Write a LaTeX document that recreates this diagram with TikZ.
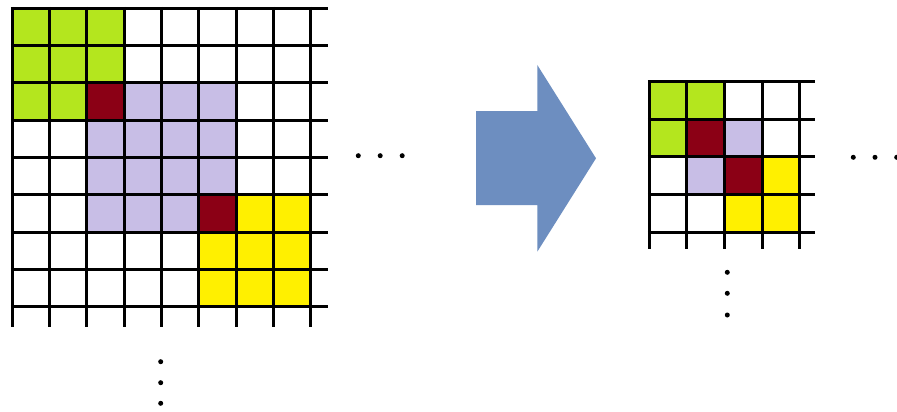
\documentclass[tikz,border=0pt]{standalone}
\definecolor{cgreen}{RGB}{180,230,30}
\definecolor{cpurple}{RGB}{200,190,230}
\definecolor{cdred}{RGB}{139,0,21}
\definecolor{cyellow}{RGB}{255,240,0}
\definecolor{carrow}{RGB}{109,142,192}
\tikzset{
  gridline/.style={line width=3pt, black},
  dotmark/.style={circle, fill=black, inner sep=0pt, minimum size=5pt},
}
\begin{document}
\begin{tikzpicture}[x=1pt,y=-1pt]
\useasboundingbox (0,0) rectangle (897,412);
\fill[white] (0,0) rectangle (897,412);

% ---------- left 8x8 block ----------
\def\lx{12.3}\def\ly{8.3}\def\lp{37.3}
\foreach \c/\r/\col in {0/0/cgreen,1/0/cgreen,2/0/cgreen,0/1/cgreen,1/1/cgreen,2/1/cgreen,0/2/cgreen,1/2/cgreen,
  2/2/cdred,3/2/cpurple,4/2/cpurple,5/2/cpurple,
  2/3/cpurple,3/3/cpurple,4/3/cpurple,5/3/cpurple,
  2/4/cpurple,3/4/cpurple,4/4/cpurple,5/4/cpurple,
  2/5/cpurple,3/5/cpurple,4/5/cpurple,5/5/cdred,6/5/cyellow,7/5/cyellow,
  5/6/cyellow,6/6/cyellow,7/6/cyellow,5/7/cyellow,6/7/cyellow,7/7/cyellow}
  \fill[\col] ({\lx+\c*\lp},{\ly+\r*\lp}) rectangle ++(\lp,\lp);
\foreach \i in {0,...,8} {
  \draw[gridline] ({\lx+\i*\lp},{\ly-1.5}) -- ({\lx+\i*\lp},326.7);
  \draw[gridline] ({\lx-1.5},{\ly+\i*\lp}) -- (328,{\ly+\i*\lp});
}
\node[dotmark] (lh1) at (358.3,155.7) {};
\node[dotmark] (lh2) at (380.2,155.7) {};
\node[dotmark] (lh3) at (402.2,155.7) {};
\node[dotmark] (lv1) at (160.7,361.7) {};
\node[dotmark] (lv2) at (160.7,382.7) {};
\node[dotmark] (lv3) at (160.7,403.3) {};

% ---------- block arrow ----------
\fill[carrow] (476,111) -- (537.3,111) -- (537.3,65) -- (596,158.3)
  -- (537.3,251.7) -- (537.3,205) -- (476,205) -- cycle;

% ---------- right 4x4 block ----------
\def\rx{649.3}\def\ry{81.7}\def\rp{37.6}
\foreach \c/\r/\col in {0/0/cgreen,1/0/cgreen,0/1/cgreen,1/1/cdred,2/1/cpurple,
  1/2/cpurple,2/2/cdred,3/2/cyellow,2/3/cyellow,3/3/cyellow}
  \fill[\col] ({\rx+\c*\rp},{\ry+\r*\rp}) rectangle ++(\rp,\rp);
\foreach \i in {0,...,4} {
  \draw[gridline] ({\rx+\i*\rp},{\ry-1.5}) -- ({\rx+\i*\rp},248.5);
  \draw[gridline] ({\rx-1.5},{\ry+\i*\rp}) -- (815,{\ry+\i*\rp});
}
\node[dotmark] (rh1) at (853.3,157.3) {};
\node[dotmark] (rh2) at (875,157.3) {};
\node[dotmark] (rh3) at (896.7,157.3) {};
\node[dotmark] (rv1) at (727.3,272.3) {};
\node[dotmark] (rv2) at (727.3,293.3) {};
\node[dotmark] (rv3) at (727.3,315) {};
\end{tikzpicture}
\end{document}
